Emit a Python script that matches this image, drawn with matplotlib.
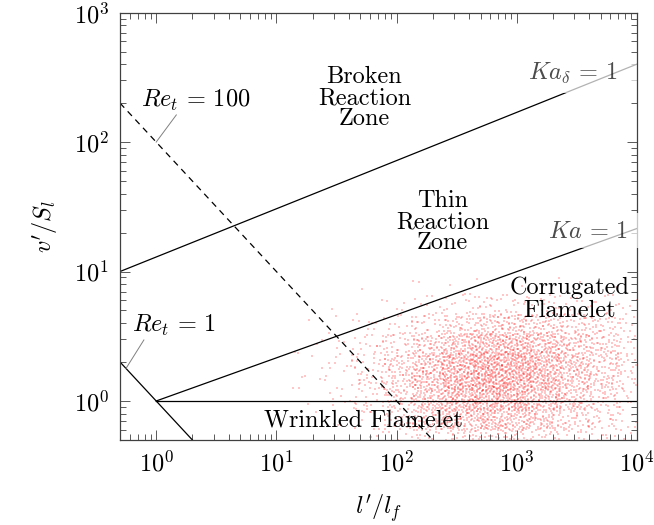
import numpy as np
import matplotlib
matplotlib.use("Agg")
from matplotlib import pyplot as plt
from matplotlib.patches import Rectangle

plt.rcParams.update({
    "font.family": "serif",
    "font.serif": ["cmr10"],
    "mathtext.fontset": "cm",
    "axes.formatter.use_mathtext": True,
    "font.size": 17.5,
})

# regime boundaries (l'/l_f, v'/S_l)
re1_x, re1_y = [0.5, 2.0], [2.0, 0.5]
re100_x, re100_y = [0.5, 200.0], [200.0, 0.5]
ka1_x, ka1_y = [1.0, 1e4], [1.0, 21.5]
kad_x, kad_y = [0.5, 1e4], [10.0, 400.0]
flat_x, flat_y = [1.0, 1e4], [1.0, 1.0]

# measured operating points: counts per cell of a log-spaced grid
cell_logx = np.arange(1.0, 4.0001, 0.25)      # 12 columns
cell_logy = np.arange(-0.3, 0.9001, 0.15)     # 8 rows
cell_counts = np.array([
    [0, 1, 4, 10, 30, 55, 75, 75, 60, 40, 25, 15],       # -0.30 .. -0.15
    [0, 2, 6, 18, 45, 80, 110, 110, 90, 60, 35, 20],     # -0.15 .. 0.00
    [1, 3, 10, 30, 65, 110, 150, 160, 130, 90, 50, 30],  # 0.00 .. 0.15
    [1, 4, 12, 35, 70, 120, 160, 170, 150, 100, 60, 35], # 0.15 .. 0.30
    [1, 3, 10, 25, 50, 90, 130, 150, 130, 90, 60, 35],   # 0.30 .. 0.45
    [0, 2, 6, 12, 25, 45, 70, 90, 80, 60, 45, 30],       # 0.45 .. 0.60
    [0, 0, 2, 4, 8, 15, 25, 35, 30, 25, 20, 15],         # 0.60 .. 0.75
    [0, 0, 0, 1, 2, 3, 4, 4, 3, 3, 2, 2],                # 0.75 .. 0.90
])


def halton(k, base):
    out = np.zeros(len(k))
    f = 1.0
    k = k.copy()
    while np.any(k > 0):
        f /= base
        out += f * (k % base)
        k //= base
    return out


def fill_cells(ex, ey, counts):
    """spread each cell's points (Halton pattern) over a window twice
    the cell size so neighbouring cells blend"""
    xs, ys = [], []
    k0 = 1
    for j in range(counts.shape[0]):
        for i in range(counts.shape[1]):
            n = counts[j, i]
            k = np.arange(k0, k0 + n)
            k0 += 997
            u = 2.0 * halton(k, 2) - 0.5
            v = 2.0 * halton(k, 3) - 0.5
            xs.append(10 ** (ex[i] + u * (ex[i + 1] - ex[i])))
            ys.append(10 ** (ey[j] + v * (ey[j + 1] - ey[j])))
    return np.concatenate(xs), np.concatenate(ys)


pts_x, pts_y = fill_cells(cell_logx, cell_logy, cell_counts)

fig = plt.figure(figsize=(6.54, 5.25), dpi=100)
ax = fig.add_axes([0.1835, 0.162, 0.7905, 0.814])
ax.set_xscale("log")
ax.set_yscale("log")
ax.set_xlim(0.5, 1e4)
ax.set_ylim(0.5, 1e3)

ax.scatter(pts_x, pts_y, s=0.8, marker="s", color="red", alpha=0.22,
           linewidths=0, zorder=1)

lw = 0.9
ax.plot(re1_x, re1_y, color="black", lw=lw, zorder=2)
ax.plot(re100_x, re100_y, color="black", lw=lw, ls=(0, (5, 4)), zorder=2)
ax.plot(ka1_x, ka1_y, color="black", lw=lw, zorder=2)
ax.plot(kad_x, kad_y, color="black", lw=lw, zorder=2)
ax.plot(flat_x, flat_y, color="black", lw=lw, zorder=2)

# half-transparent boxes behind the Karlovitz labels
ax.add_patch(Rectangle((1170, 239), 1e4 - 1170, 470 - 239, facecolor="white",
                       alpha=0.7, edgecolor="none", zorder=2.2))
ax.add_patch(Rectangle((1710, 15.2), 1.06e4 - 1710, 28.3 - 15.2, facecolor="white",
                       alpha=0.7, edgecolor="none", zorder=2.6, clip_on=False))

ax.text(6810, 341, r"$Ka_\delta\,=\,1$", ha="right", va="center", color="black",
        alpha=0.7, zorder=3)
ax.text(8410, 20.2, r"$Ka\,=\,1$", ha="right", va="center", color="black",
        alpha=0.7, zorder=3)

# Reynolds labels with leader lines
ax.plot([1.47, 1.0], [162, 100], color="0.5", lw=0.7, zorder=2)
ax.text(2.15, 211, r"$Re_t\,=\,100$", ha="center", va="center")
ax.plot([0.79, 0.56], [2.96, 1.78], color="0.5", lw=0.7, zorder=2)
ax.text(1.41, 3.86, r"$Re_t\,=\,1$", ha="center", va="center")

# regime names
ax.text(54, 219, "Broken\nReaction\nZone", ha="center", va="center", linespacing=0.95)
ax.text(242, 24.1, "Thin\nReaction\nZone", ha="center", va="center", linespacing=0.95)
ax.text(2760, 6.1, "Corrugated\nFlamelet", ha="center", va="center", linespacing=1.0)
ax.text(53, 0.71, "Wrinkled Flamelet", ha="center", va="center")

ax.set_xlabel(r"$l'/l_f$", labelpad=12)
ax.set_ylabel(r"$v'/S_l$", labelpad=10)

ax.tick_params(which="both", direction="in", top=True, right=True,
               color="0.35", width=0.7)
ax.tick_params(which="major", length=7, pad=8)
ax.tick_params(which="minor", length=4.5)
for s in ax.spines.values():
    s.set_color("0.25")
    s.set_linewidth(0.9)

fig.savefig("out.png", dpi=100)
